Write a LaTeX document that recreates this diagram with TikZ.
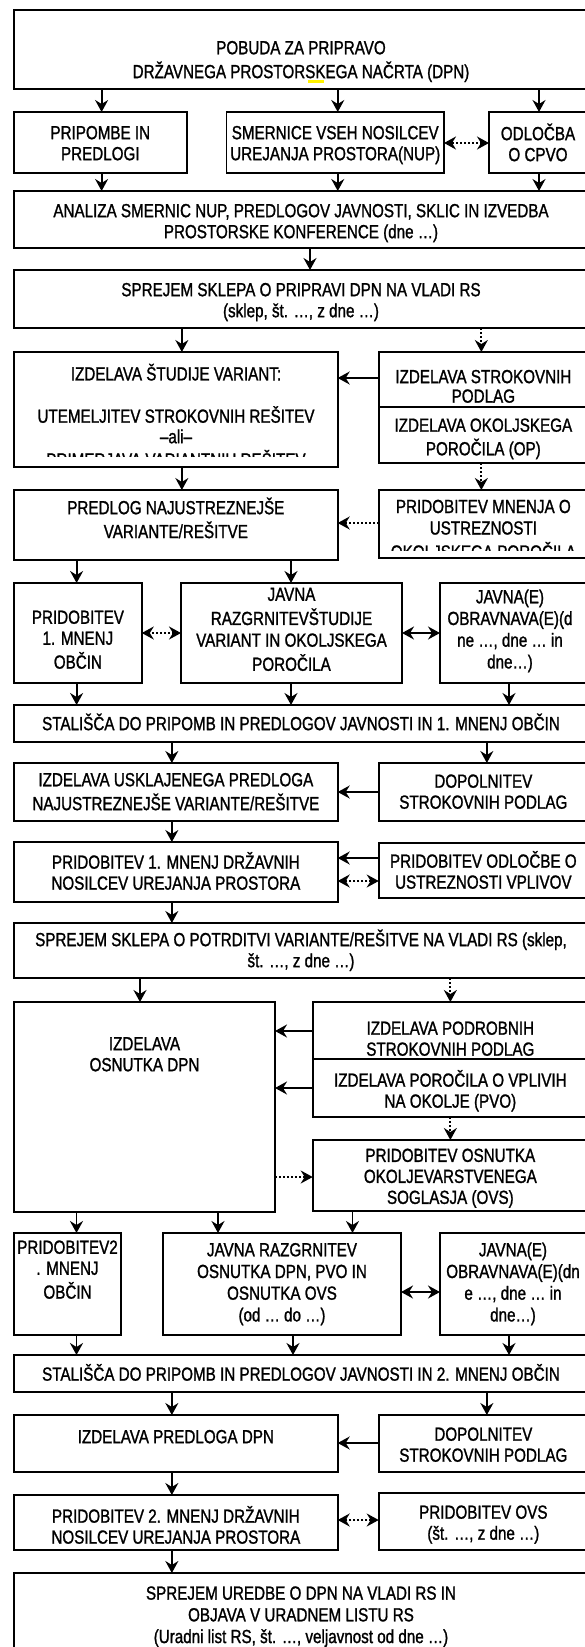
\documentclass[tikz,border=0pt]{standalone}
\usepackage{fontspec}
\setmainfont{Liberation Sans}[FakeStretch=0.80,FakeBold=1.2]
\usetikzlibrary{arrows.meta}
\tikzset{
  hd/.tip={Stealth[length=12pt,width=13pt,inset=4pt]},
  box/.style={draw=black, line width=1.8pt, inner sep=0pt, outer sep=0pt, fill=white},
  txt/.style={inner sep=0pt, outer sep=0pt, align=center, font=\fontsize{19}{#1}\selectfont, yshift=-2pt},
  txt/.default=21,
  arr/.style={line width=1.8pt, -hd},
  darr/.style={line width=1.8pt, -hd, dash pattern=on 2pt off 2pt},
  bid/.style={line width=1.8pt, hd-hd},
  dbid/.style={line width=1.8pt, hd-hd, dash pattern=on 2pt off 2pt},
}
\newcommand{\bx}[5]{\node[box, minimum width={(#4-#2)*1pt}, minimum height={(#5-#3)*1pt}] (#1) at ({(#2+#4)/2},{(#3+#5)/2}) {};}
\newcommand{\vconn}[5][arr]{\path ([xshift=#5]#4.center) coordinate (tmp); \draw[#1] (tmp |- #2.south) -- (tmp |- #3.north);}
\newcommand{\hconn}[5][arr]{\path ([yshift=#5]#4.center) coordinate (tmp); \draw[#1] (tmp -| #2.west) -- (tmp -| #3.east);}
\begin{document}
\begin{tikzpicture}[x=1pt,y=-1pt]
\useasboundingbox (0,0) rectangle (585,1647);
\fill[white] (0,0) rectangle (585,1647);
\clip (0,0) rectangle (585,1647);

% boxes
\bx{top}{14}{10}{588}{89}
\bx{pri}{14}{112}{186.6}{173}
\bx{smer}{226.5}{112}{444}{173}
\bx{odl}{489}{112}{588}{173}
\bx{ana}{14}{191}{588}{248}
\bx{spr1}{14}{270}{588}{328}
\bx{stud}{14}{352}{337.7}{467}
\bx{strokA}{378.7}{352}{588}{407}
\bx{strokB}{378.7}{407}{588}{463}
\bx{pred}{14}{490}{337.7}{560}
\bx{mnen}{378.7}{490}{588}{558}
\bx{prid1}{14}{583}{141.8}{683}
\bx{javr1}{181}{583}{402}{683}
\bx{jav1}{440}{583}{588}{683}
\bx{stal1}{14}{705}{588}{742}
\bx{uskl}{14}{763}{337.7}{821}
\bx{dop1}{378.7}{763}{588}{821}
\bx{dr1}{14}{842}{337.7}{902}
\bx{odlb}{378.7}{843}{588}{898}
\bx{spr2}{14}{923}{588}{978}
\bx{osn}{14}{1002}{275}{1212}
\bx{podA}{312.7}{1002}{588}{1059}
\bx{podB}{312.7}{1059}{588}{1117}
\bx{ovs}{312.7}{1140}{588}{1211}
\bx{prid2}{14}{1233}{121}{1335}
\bx{javr2}{163}{1233}{401}{1335}
\bx{jav2}{440}{1233}{588}{1335}
\bx{stal2}{14}{1355}{588}{1392}
\bx{izp}{14}{1415}{337.7}{1472}
\bx{dop2}{378.7}{1415}{588}{1472}
\bx{dr2}{14}{1495}{337.7}{1550}
\bx{ovs2}{378.7}{1493}{588}{1550}
\bx{fin}{14}{1573}{588}{1660}

% texts
\node[txt] (topt) at (301,60) {\strut POBUDA ZA PRIPRAVO\\\strut DRŽAVNEGA PROSTORSKEGA NAČRTA (DPN)};
\fill[yellow] (308,80) rectangle (324,82.5);
\node[txt] (prit) at (100.3,143.5) {\strut PRIPOMBE IN\\\strut PREDLOGI};
\node[txt] (smert) at (335.25,143.5) {\strut SMERNICE VSEH NOSILCEV\\\strut UREJANJA PROSTORA(NUP)};
\node[txt] (odlt) at (538,143.5) {\strut ODLOČBA\\\strut O CPVO};
\node[txt] (anat) at (301,221.5) {\strut ANALIZA SMERNIC NUP, PREDLOGOV JAVNOSTI, SKLIC IN IZVEDBA\\\strut PROSTORSKE KONFERENCE (dne …)};
\node[txt] (spr1t) at (301,300.5) {\strut SPREJEM SKLEPA O PRIPRAVI DPN NA VLADI RS\\\strut (sklep, št. …, z dne …)};
\begin{scope}
\clip (14,352) rectangle (337.7,456);
\node[txt=19] (studt) at (176,416) {\strut IZDELAVA ŠTUDIJE VARIANT:\\\strut\\\strut UTEMELJITEV STROKOVNIH REŠITEV\\\strut –ali–\\\strut PRIMERJAVA VARIANTNIH REŠITEV};
\end{scope}
\node[txt=19.5] (strokAt) at (483.35,387) {\strut IZDELAVA STROKOVNIH\\\strut PODLAG};
\node[txt=20] (strokBt) at (483.35,437.5) {\strut IZDELAVA OKOLJSKEGA\\\strut POROČILA (OP)};
\node[txt] (predt) at (175.85,519) {\strut PREDLOG NAJUSTREZNEJŠE\\\strut VARIANTE/REŠITVE};
\begin{scope}
\clip (378.7,490) rectangle (588,550);
\node[txt=21.5] (mnent) at (483.35,529.5) {\strut PRIDOBITEV MNENJA O\\\strut USTREZNOSTI\\\strut OKOLJSKEGA POROČILA};
\end{scope}
\node[txt] (prid1t) at (77.9,640) {\strut PRIDOBITEV\\\strut 1. MNENJ\\\strut OBČIN};
\node[txt=21.7] (javr1t) at (291.5,629.5) {\strut JAVNA\\\strut RAZGRNITEVŠTUDIJE\\\strut VARIANT IN OKOLJSKEGA\\\strut POROČILA};
\node[txt=21.7] (jav1t) at (510,629.5) {\strut JAVNA(E)\\\strut OBRAVNAVA(E)(d\\\strut ne …, dne … in\\\strut dne…)};
\node[txt] (stal1t) at (301,723) {\strut STALIŠČA DO PRIPOMB IN PREDLOGOV JAVNOSTI IN 1. MNENJ OBČIN};
\node[txt] (usklt) at (175.85,792) {\strut IZDELAVA USKLAJENEGA PREDLOGA\\\strut NAJUSTREZNEJŠE VARIANTE/REŠITVE};
\node[txt] (dop1t) at (483.35,792) {\strut DOPOLNITEV\\\strut STROKOVNIH PODLAG};
\node[txt] (dr1t) at (175.85,872) {\strut PRIDOBITEV 1. MNENJ DRŽAVNIH\\\strut NOSILCEV UREJANJA PROSTORA};
\node[txt] (odlbt) at (483.35,871) {\strut PRIDOBITEV ODLOČBE O\\\strut USTREZNOSTI VPLIVOV};
\node[txt] (spr2t) at (301,949.5) {\strut SPREJEM SKLEPA O POTRDITVI VARIANTE/REŠITVE NA VLADI RS (sklep,\\\strut št. …, z dne …)};
\node[txt] (osnt) at (144.5,1054.5) {\strut IZDELAVA\\\strut OSNUTKA DPN};
\node[txt] (podAt) at (450.35,1039) {\strut IZDELAVA PODROBNIH\\\strut STROKOVNIH PODLAG};
\node[txt] (podBt) at (450.35,1090) {\strut IZDELAVA POROČILA O VPLIVIH\\\strut NA OKOLJE (PVO)};
\node[txt] (ovst) at (450.35,1176.7) {\strut PRIDOBITEV OSNUTKA\\\strut OKOLJEVARSTVENEGA\\\strut SOGLASJA (OVS)};
\node[txt] (prid2t) at (67.5,1270) {\strut PRIDOBITEV2\\\strut . MNENJ\\\strut OBČIN};
\node[txt=21.7] (javr2t) at (282,1282.5) {\strut JAVNA RAZGRNITEV\\\strut OSNUTKA DPN, PVO IN\\\strut OSNUTKA OVS\\\strut (od … do …)};
\node[txt=21.7] (jav2t) at (513,1282.5) {\strut JAVNA(E)\\\strut OBRAVNAVA(E)(dn\\\strut e …, dne … in\\\strut dne…)};
\node[txt] (stal2t) at (301,1373.5) {\strut STALIŠČA DO PRIPOMB IN PREDLOGOV JAVNOSTI IN 2. MNENJ OBČIN};
\node[txt] (izpt) at (175.85,1437) {\strut IZDELAVA PREDLOGA DPN};
\node[txt] (dop2t) at (483.35,1445) {\strut DOPOLNITEV\\\strut STROKOVNIH PODLAG};
\node[txt] (dr2t) at (175.85,1526) {\strut PRIDOBITEV 2. MNENJ DRŽAVNIH\\\strut NOSILCEV UREJANJA PROSTORA};
\node[txt] (ovs2t) at (483.35,1523) {\strut PRIDOBITEV OVS\\\strut (št. …, z dne …)};
\node[txt=21.7] (fint) at (301,1615) {\strut SPREJEM UREDBE O DPN NA VLADI RS IN\\\strut OBJAVA V URADNEM LISTU RS\\\strut (Uradni list RS, št. …, veljavnost od dne …)};

% vertical connectors
\vconn{top}{pri}{pri}{1.3pt}
\vconn{top}{smer}{smer}{2.5pt}
\vconn{top}{odl}{odl}{0.5pt}
\vconn{pri}{ana}{pri}{1.3pt}
\vconn{smer}{ana}{smer}{2.5pt}
\vconn{odl}{ana}{odl}{0.5pt}
\vconn{ana}{spr1}{ana}{9pt}
\vconn{spr1}{stud}{stud}{6pt}
\vconn[darr]{spr1}{strokA}{strokA}{-2pt}
\vconn{stud}{pred}{stud}{6pt}
\vconn[darr]{strokB}{mnen}{strokA}{-2pt}
\vconn{pred}{prid1}{prid1}{-1.3pt}
\vconn{pred}{javr1}{javr1}{-0.5pt}
\vconn{prid1}{stal1}{prid1}{-1.3pt}
\vconn{javr1}{stal1}{javr1}{-0.5pt}
\vconn{jav1}{stal1}{jav1}{-5pt}
\vconn{stal1}{uskl}{uskl}{-4pt}
\vconn{stal1}{dop1}{dop1}{3.5pt}
\vconn{uskl}{dr1}{uskl}{-4pt}
\vconn{dr1}{spr2}{uskl}{-4pt}
\vconn{spr2}{osn}{osn}{-4.5pt}
\vconn[darr]{spr2}{podA}{podA}{0pt}
\vconn[darr]{podB}{ovs}{podA}{0pt}
\vconn{osn}{prid2}{prid2}{9pt}
\vconn{osn}{javr2}{javr2}{-64pt}
\vconn{ovs}{javr2}{javr2}{70.5pt}
\vconn{prid2}{stal2}{prid2}{9pt}
\vconn{javr2}{stal2}{javr2}{11pt}
\vconn{jav2}{stal2}{jav2}{-5pt}
\vconn{stal2}{izp}{izp}{-4pt}
\vconn{stal2}{dop2}{dop2}{3.5pt}
\vconn{izp}{dr2}{izp}{-4pt}
\vconn{dr2}{fin}{izp}{-4pt}

% horizontal connectors
\hconn[dbid]{odl}{smer}{odl}{-0.5pt}
\hconn{strokA}{stud}{strokA}{1.5pt}
\hconn[darr]{mnen}{pred}{mnen}{1pt}
\hconn[dbid]{javr1}{prid1}{prid1}{0pt}
\hconn[bid]{jav1}{javr1}{jav1}{0pt}
\hconn{dop1}{uskl}{dop1}{0pt}
\hconn{odlb}{dr1}{odlb}{12.5pt}
\hconn[dbid]{odlb}{dr1}{odlb}{-10.5pt}
\hconn{podA}{osn}{podA}{-0.5pt}
\hconn{podB}{osn}{podB}{0pt}
\path ([yshift=-1.5pt]ovs.center) coordinate (tmp);
\draw[darr] (tmp -| osn.east) -- (tmp -| ovs.west);
\hconn[bid]{jav2}{javr2}{jav2}{-8pt}
\hconn{dop2}{izp}{dop2}{0.5pt}
\hconn[dbid]{ovs2}{dr2}{dr2}{2.5pt}
\end{tikzpicture}
\end{document}
